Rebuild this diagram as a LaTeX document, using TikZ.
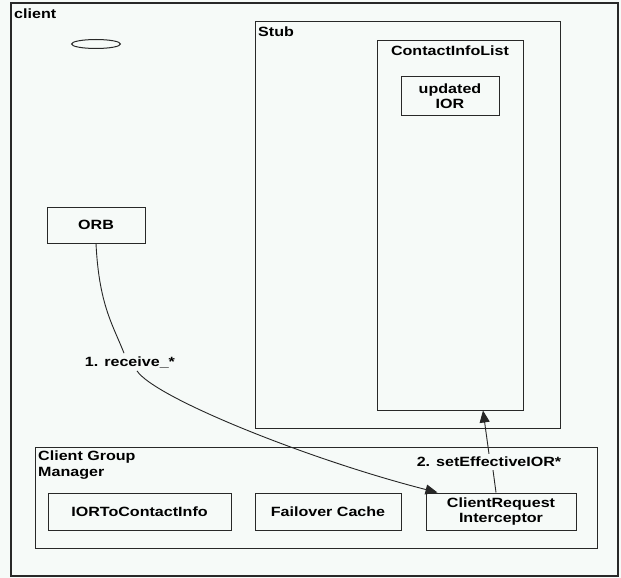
\documentclass[tikz,border=0pt]{standalone}
\usepackage{fontspec}
\newfontfamily\diafont[FakeStretch=1.2]{Liberation Sans}
\usetikzlibrary{arrows.meta,shapes.geometric,calc}
\definecolor{paper}{RGB}{246,250,248}
\definecolor{ink}{RGB}{40,40,40}

\begin{document}
\begin{tikzpicture}[x=1pt,y=-1pt,
  every node/.style={font=\diafont\bfseries\fontsize{13.4}{15.5}\selectfont, text=black},
  frame/.style={draw=ink, line width=1pt, inner sep=0pt},
  box/.style={frame, align=center},
  tag/.style={inner sep=2pt, anchor=north west, align=left},
  flow/.style={draw=black!85, line width=0.9pt},
  tip/.style={-{Triangle[length=12pt,width=10pt]}}
]
\fill[paper] (0,0) rectangle (621,578);
\useasboundingbox (0,0) rectangle (621,578);

% containers
\node[frame, line width=1.3pt, minimum width=607, minimum height=573] (client) at (314.5,289.5) {};
\node[tag] (clientlbl) at (12,7) {client};
\node[draw=ink, line width=1pt, ellipse, inner sep=0pt, minimum width=49, minimum height=9] (oval) at (96,44) {};

\node[frame, minimum width=305, minimum height=406] (stub) at (407.5,225) {};
\node[tag] (stublbl) at (256,25) {Stub};

\node[frame, minimum width=146, minimum height=369] (cil) at (450,225.5) {};
\node[anchor=north, inner sep=2pt] (cillbl) at (450,44) {ContactInfoList};
\node[box, minimum width=98, minimum height=38] (ior) at (450,96) {updated\\IOR};

\node[box, minimum width=98, minimum height=36] (orb) at (96,225) {ORB};

\node[frame, minimum width=562, minimum height=101] (cgm) at (316,497.5) {};
\node[tag] (cgmlbl) at (36,449) {Client Group\\Manager};
\node[box, minimum width=183, minimum height=37] (i2c) at (139.5,511.5) {IORToContactInfo};
\node[box, minimum width=146, minimum height=37] (fc) at (328,511.5) {Failover Cache};
\node[box, minimum width=150, minimum height=37] (cri) at (501,511.5) {ClientRequest\\Interceptor};

% message labels
\node[inner sep=3pt] (rcv) at (130,362) {1. receive\_*};
\node[inner sep=3pt] (set) at (489,462) {2. setEffectiveIOR*};

% 1. receive_*
\draw[flow] (orb.south) .. controls (99,305) and (113,325) .. ($(rcv.north)+(-6,0)$);
\draw[flow,tip] ($(rcv.south)+(7,0)$) .. controls (155,398) and (310,460) .. ($(cri.north west)+(12,0)$);

% 2. setEffectiveIOR*
\draw[flow] ($(cri.north)+(-5,0)$) -- ($(set.south)+(4,0)$);
\draw[flow,tip] (set.north) -- ($(cil.south)+(33,0)$);
\end{tikzpicture}
\end{document}
